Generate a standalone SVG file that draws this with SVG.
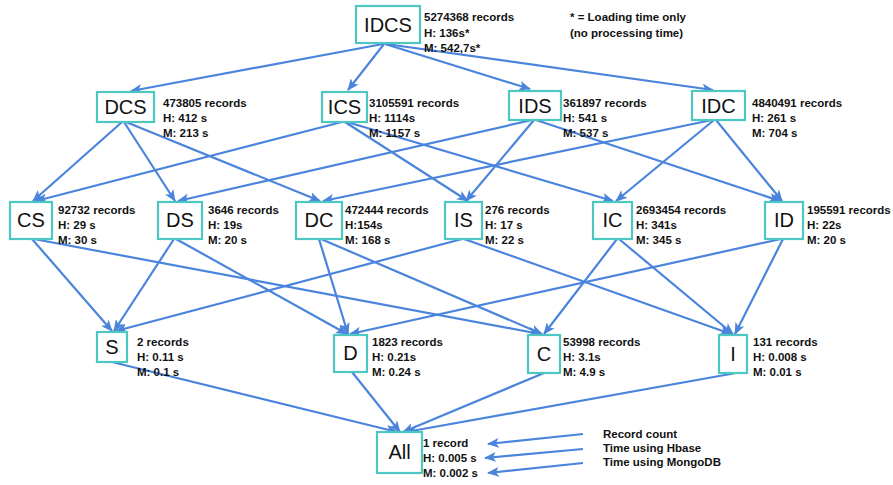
<svg xmlns="http://www.w3.org/2000/svg" width="893" height="485" viewBox="0 0 893 485">
<defs>
<marker id="ah" viewBox="0 0 12 10" refX="11" refY="5" markerWidth="12" markerHeight="10" markerUnits="userSpaceOnUse" orient="auto">
<path d="M0,0 L12,5 L0,10 L3,5 z" fill="#4a84dc"/>
</marker>
<style>
.box{fill:#fff;stroke:#4cc7c2;stroke-width:2.2}
.lbl{font-family:"Liberation Sans",Arial,sans-serif;font-size:20px;fill:#111;text-anchor:middle}
.st{font-family:"Liberation Sans",Arial,sans-serif;font-size:11.5px;font-weight:bold;fill:#111}
.e line{stroke:#4a84dc;stroke-width:2.2;marker-end:url(#ah)}
</style>
</defs>
<rect width="893" height="485" fill="#fff"/>
<g class="e" id="connectors">
<line x1="383" y1="44" x2="131" y2="91"/>
<line x1="384" y1="44" x2="348" y2="90"/>
<line x1="385" y1="44" x2="530" y2="89"/>
<line x1="386" y1="44" x2="713" y2="90"/>
<line x1="122" y1="122" x2="33" y2="201"/>
<line x1="124" y1="122" x2="175" y2="201"/>
<line x1="126" y1="122" x2="320" y2="201"/>
<line x1="342" y1="122" x2="36" y2="201"/>
<line x1="345" y1="122" x2="468" y2="201"/>
<line x1="347" y1="122" x2="613" y2="201"/>
<line x1="532" y1="120" x2="178" y2="201"/>
<line x1="534" y1="120" x2="466" y2="201"/>
<line x1="536" y1="120" x2="780" y2="201"/>
<line x1="712" y1="120" x2="323" y2="201"/>
<line x1="714" y1="120" x2="616" y2="201"/>
<line x1="716" y1="120" x2="782" y2="201"/>
<line x1="32" y1="239" x2="112" y2="331"/>
<line x1="34" y1="239" x2="540" y2="334"/>
<line x1="174" y1="239" x2="114" y2="331"/>
<line x1="176" y1="239" x2="347" y2="334"/>
<line x1="319" y1="239" x2="348" y2="334"/>
<line x1="321" y1="239" x2="542" y2="334"/>
<line x1="462" y1="239" x2="116" y2="331"/>
<line x1="464" y1="239" x2="731" y2="334"/>
<line x1="617" y1="239" x2="544" y2="334"/>
<line x1="619" y1="239" x2="733" y2="334"/>
<line x1="781" y1="239" x2="350" y2="334"/>
<line x1="783" y1="239" x2="735" y2="334"/>
<line x1="112" y1="362" x2="397" y2="432"/>
<line x1="352" y1="372" x2="400" y2="432"/>
<line x1="544" y1="373" x2="403" y2="432"/>
<line x1="736" y1="373" x2="406" y2="432"/>
<line x1="583" y1="434" x2="488" y2="444"/>
<line x1="583" y1="449" x2="485" y2="458"/>
<line x1="583" y1="463" x2="488" y2="473"/>
</g>
<g id="IDCS"><rect class="box" x="356" y="6" width="64" height="37"/><text class="lbl" x="388" y="32">IDCS</text>
<text class="st" x="424" y="21">5274368 records</text><text class="st" x="424" y="37">H: 136s*</text><text class="st" x="424" y="52">M: 542,7s*</text></g>
<g id="note"><text class="st" x="570" y="21">* = Loading time only</text><text class="st" x="570" y="37">(no processing time)</text></g>
<g id="DCS"><rect class="box" x="97" y="92" width="57" height="30"/><text class="lbl" x="125.5" y="114">DCS</text>
<text class="st" x="163" y="107">473805 records</text><text class="st" x="163" y="122">H: 412 s</text><text class="st" x="163" y="137">M: 213 s</text></g>
<g id="ICS"><rect class="box" x="322" y="92" width="45" height="30"/><text class="lbl" x="344.5" y="114">ICS</text>
<text class="st" x="369" y="107">3105591 records</text><text class="st" x="369" y="122">H: 1114s</text><text class="st" x="369" y="137">M: 1157 s</text></g>
<g id="IDS"><rect class="box" x="509" y="91" width="52" height="29"/><text class="lbl" x="535" y="113">IDS</text>
<text class="st" x="563" y="107">361897 records</text><text class="st" x="563" y="122">H: 541 s</text><text class="st" x="563" y="137">M: 537 s</text></g>
<g id="IDC"><rect class="box" x="692" y="91" width="53" height="29"/><text class="lbl" x="718.5" y="113">IDC</text>
<text class="st" x="752" y="107">4840491 records</text><text class="st" x="752" y="122">H: 261 s</text><text class="st" x="752" y="137">M: 704 s</text></g>
<g id="CS"><rect class="box" x="10" y="202" width="42" height="37"/><text class="lbl" x="31" y="227">CS</text>
<text class="st" x="58" y="214">92732 records</text><text class="st" x="58" y="229">H: 29 s</text><text class="st" x="58" y="244">M: 30 s</text></g>
<g id="DS"><rect class="box" x="158" y="202" width="44" height="37"/><text class="lbl" x="180" y="227">DS</text>
<text class="st" x="208" y="214">3646 records</text><text class="st" x="208" y="229">H: 19s</text><text class="st" x="208" y="244">M: 20 s</text></g>
<g id="DC"><rect class="box" x="296" y="202" width="46" height="37"/><text class="lbl" x="319" y="227">DC</text>
<text class="st" x="345" y="214">472444 records</text><text class="st" x="345" y="229">H:154s</text><text class="st" x="345" y="244">M: 168 s</text></g>
<g id="IS"><rect class="box" x="445" y="202" width="37" height="37"/><text class="lbl" x="463.5" y="227">IS</text>
<text class="st" x="485" y="214">276 records</text><text class="st" x="485" y="229">H: 17 s</text><text class="st" x="485" y="244">M: 22 s</text></g>
<g id="IC"><rect class="box" x="593" y="202" width="39" height="37"/><text class="lbl" x="612.5" y="227">IC</text>
<text class="st" x="636" y="214">2693454 records</text><text class="st" x="636" y="229">H: 341s</text><text class="st" x="636" y="244">M: 345 s</text></g>
<g id="ID"><rect class="box" x="765" y="202" width="38" height="37"/><text class="lbl" x="784" y="227">ID</text>
<text class="st" x="807" y="214">195591 records</text><text class="st" x="807" y="229">H: 22s</text><text class="st" x="807" y="244">M: 20 s</text></g>
<g id="S"><rect class="box" x="97" y="332" width="30" height="30"/><text class="lbl" x="112" y="354">S</text>
<text class="st" x="137" y="346">2 records</text><text class="st" x="137" y="361">H: 0.11 s</text><text class="st" x="137" y="376">M: 0.1 s</text></g>
<g id="D"><rect class="box" x="334" y="335" width="33" height="37"/><text class="lbl" x="350.5" y="360">D</text>
<text class="st" x="372" y="346">1823 records</text><text class="st" x="372" y="361">H: 0.21s</text><text class="st" x="372" y="376">M: 0.24 s</text></g>
<g id="C"><rect class="box" x="528" y="335" width="32" height="38"/><text class="lbl" x="544" y="361">C</text>
<text class="st" x="563" y="346">53998 records</text><text class="st" x="563" y="361">H: 3.1s</text><text class="st" x="563" y="376">M: 4.9 s</text></g>
<g id="I"><rect class="box" x="719" y="335" width="28" height="38"/><text class="lbl" x="733" y="361">I</text>
<text class="st" x="753" y="346">131 records</text><text class="st" x="753" y="361">H: 0.008 s</text><text class="st" x="753" y="376">M: 0.01 s</text></g>
<g id="All"><rect class="box" x="377" y="432" width="45" height="41"/><text class="lbl" x="399.5" y="459">All</text>
<text class="st" x="423" y="447">1 record</text><text class="st" x="423" y="462">H: 0.005 s</text><text class="st" x="423" y="477">M: 0.002 s</text></g>
<g id="legend"><text class="st" x="603" y="438">Record count</text><text class="st" x="603" y="452">Time using Hbase</text><text class="st" x="603" y="466">Time using MongoDB</text></g>
</svg>
